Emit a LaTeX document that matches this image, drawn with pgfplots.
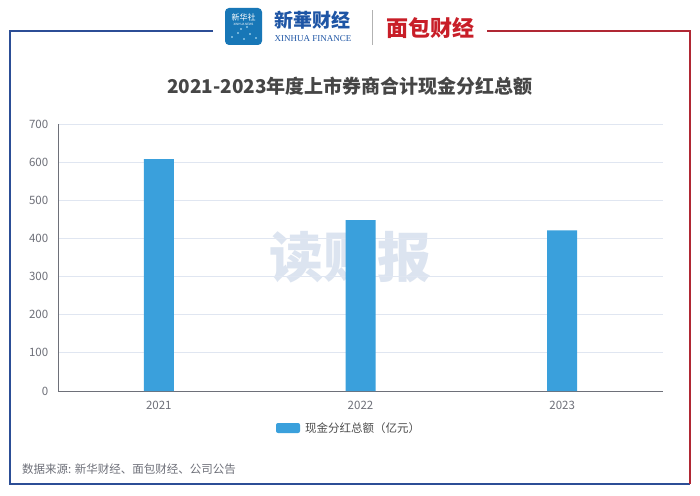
\documentclass[border=0pt]{standalone}
\usepackage{fontspec}
\setmainfont{Noto Sans CJK SC}
\newfontfamily\seriffont{Liberation Serif}
\usepackage{pgfplots}
\pgfplotsset{compat=1.18}
\definecolor{barblue}{RGB}{58,160,220}
\definecolor{frameblue}{RGB}{44,78,150}
\definecolor{framered}{RGB}{176,40,52}
\definecolor{wm}{RGB}{220,228,240}
\definecolor{gridc}{RGB}{224,230,241}
\definecolor{axisgray}{RGB}{110,112,121}
\definecolor{titlegray}{RGB}{70,70,70}
\definecolor{logoblue}{RGB}{30,85,165}
\definecolor{logored}{RGB}{200,30,40}
\begin{document}
\begin{tikzpicture}[x=1pt,y=1pt]
\useasboundingbox (0,0) rectangle (700,495);
\fill[white] (0,0) rectangle (700,495);
% frame
\draw[frameblue, line width=2pt] (213,464) -- (10,464) -- (10,11) -- (690,11);
\draw[framered, line width=2pt] (487,464) -- (690,464) -- (690,11);
% logos
\fill[logoblue!80!cyan, rounded corners=4pt] (225,450) rectangle (262,487);
\node[text=white, font=\fontsize{8}{8}\selectfont] at (243.5,478) {新华社};
\node[text=white, font=\fontsize{3}{3}\selectfont] at (243.5,471) {XINHUA NEWS};
\foreach \px/\py in {232/458,238/462,244/456,250/461,256/457,241/466,247/468}{\fill[white!80!cyan] (\px,\py) circle (0.9pt);}
\node[text=logoblue, font=\fontsize{19}{19}\selectfont\bfseries] at (312,475) {新華财经};
\node[text=logoblue, font=\seriffont\fontsize{9}{9}\selectfont] at (313,456) {XINHUA FINANCE};
\draw[gray!60, line width=0.8pt] (372,450) -- (372,485);
\node[text=logored, font=\fontsize{22}{22}\selectfont\bfseries] at (430,467) {面包财经};
% title
\node[text=titlegray, font=\fontsize{19}{19}\selectfont\bfseries] at (350,409) {2021-2023年度上市券商合计现金分红总额};
% watermark
\node[text=wm, font=\fontsize{54}{54}\selectfont\bfseries] at (350,238) {读财报};
% footer
\node[anchor=west, text=axisgray, font=\fontsize{11.5}{12}\selectfont, inner sep=0pt] at (22,26) {数据来源: 新华财经、面包财经、公司公告};
\begin{axis}[
  at={(58pt,104pt)}, anchor=south west,
  scale only axis, width=605pt, height=267pt,
  xmin=-0.5, xmax=2.5, ymin=0, ymax=700,
  ytick={0,100,...,700},
  xtick={0,1,2}, xticklabels={2021,2022,2023},
  minor xtick={-0.5,0.5,1.5,2.5},
  axis x line*=bottom, axis y line*=left,
  axis line style={axisgray, line width=0.8pt, -},
  xtick style={draw=none}, ytick style={draw=none},
  minor x tick style={axisgray, line width=0.8pt},
  tick align=outside, minor tick length=5pt,
  ymajorgrids, grid style={gridc, line width=0.8pt},
  tick label style={text=axisgray, font=\fontsize{11.5}{12}\selectfont},
  /pgf/number format/assume math mode=true,
  yticklabel style={xshift=-2pt},
  xticklabel style={yshift=-2pt},
  legend style={at={(0.4835,-0.1386)}, anchor=center, draw=none, fill=none,
    font=\fontsize{11.5}{12}\selectfont, text=black!70,
    nodes={inner xsep=5pt}},
  legend image code/.code={\fill[barblue, rounded corners=2pt] (0pt,-5pt) rectangle (24pt,5pt);},
  legend cell align=left,
]
\addplot[ybar, bar width=30pt, fill=barblue, draw=none] coordinates {(0,608) (1,448) (2,421)};
\addlegendentry{现金分红总额（亿元）}
\end{axis}
\end{tikzpicture}
\end{document}
